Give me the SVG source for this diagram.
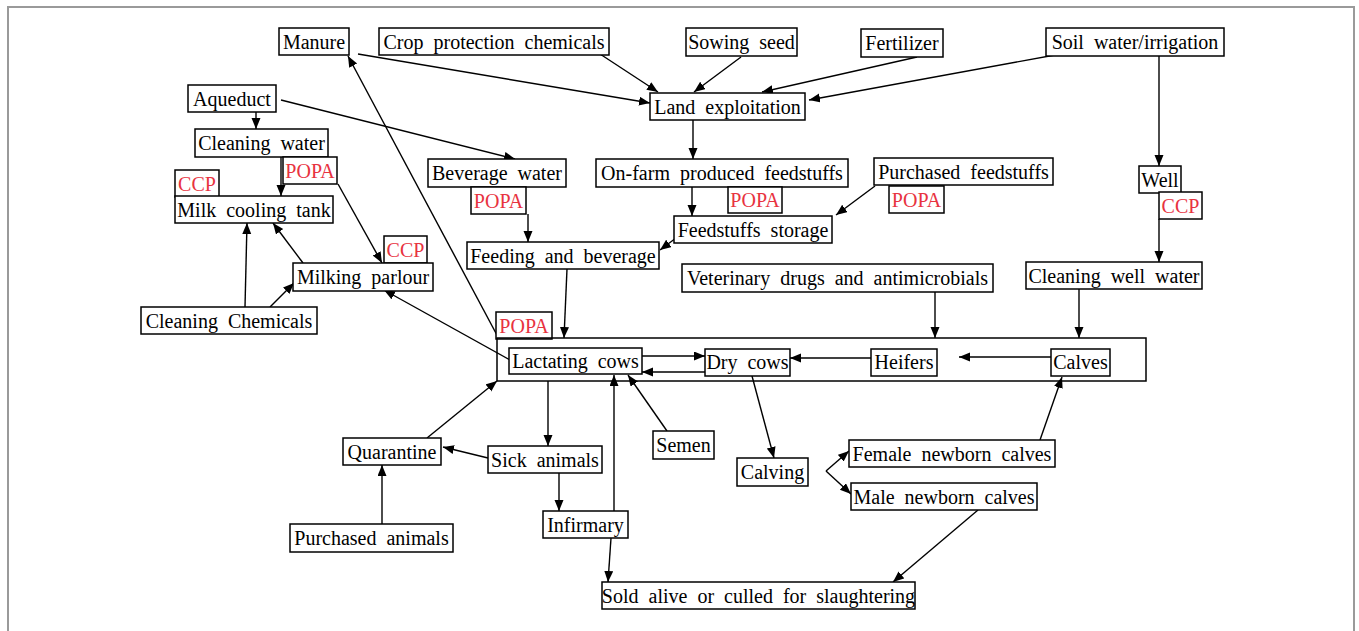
<svg xmlns="http://www.w3.org/2000/svg" width="1359" height="631" viewBox="0 0 1359 631">
<style>
.bg{fill:#fff}
.frame{fill:none;stroke:#9a9a9a;stroke-width:2}
.box{fill:#fff;stroke:#000;stroke-width:1.5}
.cont{fill:none;stroke:#000;stroke-width:1.5}
.t{font-family:"Liberation Serif","Times New Roman",serif;font-size:20px;fill:#000;text-anchor:middle;word-spacing:5px}
.r{fill:#e8333f;word-spacing:0}
.c line{stroke:#000;stroke-width:1.4;marker-end:url(#ah)}
</style>
<defs>
<marker id="ah" markerUnits="userSpaceOnUse" markerWidth="12" markerHeight="10" refX="11" refY="4.5" orient="auto">
<path d="M0,0 L11,4.5 L0,9 z" fill="#000"/>
</marker>
</defs>
<rect class="bg" x="0" y="0" width="1359" height="631"/>
<rect class="frame" x="8" y="7" width="1346" height="700"/>

<g id="connectors" class="c">
<line x1="358" y1="54" x2="650" y2="103"/>
<line x1="600" y1="54" x2="658" y2="92"/>
<line x1="741" y1="57" x2="694" y2="92"/>
<line x1="917" y1="57" x2="762" y2="92"/>
<line x1="1055" y1="55" x2="809" y2="100"/>
<line x1="1159" y1="56" x2="1159" y2="166"/>
<line x1="1159" y1="219" x2="1159" y2="262"/>
<line x1="693" y1="120" x2="693" y2="159"/>
<line x1="692" y1="187" x2="692" y2="216"/>
<line x1="875" y1="186" x2="836" y2="215"/>
<line x1="676" y1="238" x2="660" y2="250"/>
<line x1="256" y1="98" x2="256" y2="129"/>
<line x1="281" y1="100" x2="515" y2="159"/>
<line x1="281" y1="141" x2="281" y2="196"/>
<line x1="528" y1="214" x2="528" y2="242"/>
<line x1="338" y1="184" x2="382" y2="263"/>
<line x1="498" y1="337" x2="348" y2="56"/>
<line x1="510" y1="360" x2="384" y2="290"/>
<line x1="303" y1="263" x2="273" y2="223"/>
<line x1="245" y1="307" x2="247" y2="223"/>
<line x1="270" y1="307" x2="294" y2="283"/>
<line x1="567" y1="269" x2="564" y2="338"/>
<line x1="935" y1="292" x2="935" y2="338"/>
<line x1="1079" y1="289" x2="1079" y2="338"/>
<line x1="642" y1="356" x2="705" y2="356"/>
<line x1="705" y1="372" x2="642" y2="372"/>
<line x1="871" y1="358" x2="790" y2="358"/>
<line x1="1051" y1="357" x2="959" y2="357"/>
<line x1="548" y1="381" x2="548" y2="446"/>
<line x1="488" y1="458" x2="443" y2="447"/>
<line x1="427" y1="438" x2="497" y2="381"/>
<line x1="382" y1="524" x2="382" y2="465"/>
<line x1="559" y1="473" x2="559" y2="511"/>
<line x1="614" y1="511" x2="614" y2="375"/>
<line x1="611" y1="538" x2="608" y2="582"/>
<line x1="667" y1="431" x2="628" y2="375"/>
<line x1="752" y1="376" x2="774" y2="458"/>
<line x1="826" y1="471" x2="849" y2="451"/>
<line x1="826" y1="471" x2="851" y2="494"/>
<line x1="1040" y1="440" x2="1062" y2="377"/>
<line x1="978" y1="510" x2="893" y2="582"/>
</g>

<g id="n-manure"><rect class="box" x="279" y="28" width="70" height="27"/><text class="t" x="314" y="49">Manure</text></g>
<g id="n-crop"><rect class="box" x="379" y="28" width="230" height="27"/><text class="t" x="494" y="49">Crop protection chemicals</text></g>
<g id="n-sowing"><rect class="box" x="686" y="28" width="111" height="28"/><text class="t" x="741.5" y="49">Sowing seed</text></g>
<g id="n-fertilizer"><rect class="box" x="861" y="29" width="82" height="28"/><text class="t" x="902" y="50">Fertilizer</text></g>
<g id="n-soil"><rect class="box" x="1046" y="28" width="178" height="28"/><text class="t" x="1135" y="49">Soil water/irrigation</text></g>
<g id="n-land"><rect class="box" x="650" y="93" width="155" height="27"/><text class="t" x="727.5" y="114">Land exploitation</text></g>
<g id="n-aqueduct"><rect class="box" x="188" y="85" width="88" height="27"/><text class="t" x="232" y="106">Aqueduct</text></g>
<g id="n-cleaningwater"><rect class="box" x="195" y="129" width="133" height="28"/><text class="t" x="261.5" y="150">Cleaning water</text></g>
<g id="n-popa1"><rect class="box" x="283" y="157" width="54" height="27"/><text class="t r" x="310" y="178">POPA</text></g>
<g id="n-ccp1"><rect class="box" x="175" y="170" width="44" height="27"/><text class="t r" x="197" y="191">CCP</text></g>
<g id="n-milktank"><rect class="box" x="175" y="196" width="158" height="27"/><text class="t" x="254" y="217">Milk cooling tank</text></g>
<g id="n-beverage"><rect class="box" x="428" y="159" width="138" height="28"/><text class="t" x="497" y="180">Beverage water</text></g>
<g id="n-popa2"><rect class="box" x="471" y="187" width="55" height="27"/><text class="t r" x="498.5" y="208">POPA</text></g>
<g id="n-onfarm"><rect class="box" x="596" y="159" width="252" height="28"/><text class="t" x="722" y="180">On-farm produced feedstuffs</text></g>
<g id="n-popa3"><rect class="box" x="728" y="187" width="54" height="26"/><text class="t r" x="755" y="207">POPA</text></g>
<g id="n-purchasedfeed"><rect class="box" x="874" y="158" width="179" height="27"/><text class="t" x="963.5" y="179">Purchased feedstuffs</text></g>
<g id="n-popa4"><rect class="box" x="889" y="186" width="55" height="27"/><text class="t r" x="916.5" y="207">POPA</text></g>
<g id="n-storage"><rect class="box" x="674" y="216" width="158" height="27"/><text class="t" x="753" y="237">Feedstuffs storage</text></g>
<g id="n-well"><rect class="box" x="1139" y="166" width="42" height="27"/><text class="t" x="1160" y="187">Well</text></g>
<g id="n-ccp2"><rect class="box" x="1159" y="192" width="43" height="27"/><text class="t r" x="1180.5" y="213">CCP</text></g>
<g id="n-cleaningwell"><rect class="box" x="1026" y="262" width="176" height="27"/><text class="t" x="1114" y="283">Cleaning well water</text></g>
<g id="n-feeding"><rect class="box" x="467" y="242" width="192" height="27"/><text class="t" x="563" y="263">Feeding and beverage</text></g>
<g id="n-ccp3"><rect class="box" x="384" y="236" width="43" height="27"/><text class="t r" x="405.5" y="257">CCP</text></g>
<g id="n-milking"><rect class="box" x="293" y="263" width="140" height="28"/><text class="t" x="363" y="284">Milking parlour</text></g>
<g id="n-cleaningchem"><rect class="box" x="141" y="307" width="176" height="27"/><text class="t" x="229" y="328">Cleaning Chemicals</text></g>
<g id="n-vet"><rect class="box" x="682" y="264" width="311" height="28"/><text class="t" x="837.5" y="285">Veterinary drugs and antimicrobials</text></g>
<g id="n-popa5"><rect class="box" x="496" y="312" width="56" height="27"/><text class="t r" x="524" y="333">POPA</text></g>
<g id="n-herd"><rect class="cont" x="497" y="338" width="649" height="43"/></g>
<g id="n-lactating"><rect class="box" x="509" y="348" width="133" height="26"/><text class="t" x="575.5" y="368">Lactating cows</text></g>
<g id="n-dry"><rect class="box" x="705" y="349" width="85" height="27"/><text class="t" x="747.5" y="369">Dry cows</text></g>
<g id="n-heifers"><rect class="box" x="871" y="349" width="66" height="27"/><text class="t" x="904" y="369">Heifers</text></g>
<g id="n-calves"><rect class="box" x="1051" y="349" width="59" height="27"/><text class="t" x="1080.5" y="369">Calves</text></g>
<g id="n-quarantine"><rect class="box" x="343" y="438" width="98" height="27"/><text class="t" x="392" y="459">Quarantine</text></g>
<g id="n-sick"><rect class="box" x="488" y="446" width="114" height="27"/><text class="t" x="545" y="467">Sick animals</text></g>
<g id="n-purchasedanimals"><rect class="box" x="290" y="524" width="163" height="28"/><text class="t" x="371.5" y="545">Purchased animals</text></g>
<g id="n-infirmary"><rect class="box" x="543" y="511" width="85" height="27"/><text class="t" x="585.5" y="532">Infirmary</text></g>
<g id="n-sold"><rect class="box" x="602" y="582" width="313" height="27"/><text class="t" x="758.5" y="603">Sold alive or culled for slaughtering</text></g>
<g id="n-semen"><rect class="box" x="653" y="431" width="61" height="28"/><text class="t" x="683.5" y="452">Semen</text></g>
<g id="n-calving"><rect class="box" x="737" y="458" width="71" height="28"/><text class="t" x="772.5" y="479">Calving</text></g>
<g id="n-female"><rect class="box" x="849" y="440" width="206" height="27"/><text class="t" x="952" y="461">Female newborn calves</text></g>
<g id="n-male"><rect class="box" x="851" y="483" width="186" height="27"/><text class="t" x="944" y="504">Male newborn calves</text></g>
</svg>
